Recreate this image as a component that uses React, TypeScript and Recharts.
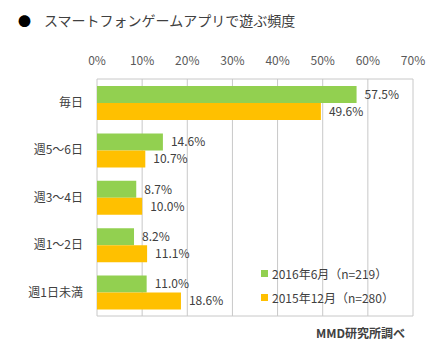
import React from "react";
import { BarChart, Bar, XAxis, YAxis, CartesianGrid, LabelList } from "recharts";

const categories = ["毎日", "週5〜6日", "週3〜4日", "週1〜2日", "週1日未満"];
const series2016 = [57.5, 14.6, 8.7, 8.2, 11.0];
const series2015 = [49.6, 10.7, 10.0, 11.1, 18.6];
const xTicks = [0, 10, 20, 30, 40, 50, 60, 70];
const seriesNames = ["2016年6月（n=219）", "2015年12月（n=280）"];
const seriesColors = ["#92D050", "#FFC000"];
const title = "スマートフォンゲームアプリで遊ぶ頻度";
const source = "MMD研究所調べ";

const data = categories.map((c, i) => ({ name: c, a: series2016[i], b: series2015[i] }));

const FONT = "'Noto Sans CJK JP', 'Noto Sans', sans-serif";

export default function App() {
  return (
    <div style={{ position: "fixed", left: 0, top: 0, width: 431, height: 353, background: "#fff", fontFamily: FONT }}>
      <div style={{ position: "absolute", left: 18, top: 9, fontSize: 14, color: "#404040", whiteSpace: "nowrap", lineHeight: "22px" }}>
        <span style={{ color: "#000", fontSize: 13, marginRight: 13 }}>●</span>
        {title}
      </div>
      <BarChart
        width={431}
        height={353}
        data={data}
        layout="vertical"
        margin={{ top: 49, right: 18, bottom: 37, left: 0 }}
        barGap={0}
      >
        <CartesianGrid
          stroke="#c8c8c8"
          horizontalCoordinatesGenerator={({ offset }: any) => [offset.top, offset.top + offset.height]}
        />
        <XAxis
          type="number"
          orientation="top"
          height={30}
          domain={[0, 70]}
          ticks={xTicks}
          tickFormatter={(v: number) => `${v}%`}
          axisLine={false}
          tickLine={false}
          tickSize={0}
          tickMargin={14}
          tick={{ fill: "#595959", fontSize: 12, fontFamily: FONT }}
          interval={0}
        />
        <YAxis
          type="category"
          dataKey="name"
          width={97}
          axisLine={false}
          tickLine={false}
          tickSize={0}
          tickMargin={14}
          tick={{ fill: "#404040", fontSize: 12, fontFamily: FONT }}
          interval={0}
        />
        <Bar dataKey="a" name={seriesNames[0]} fill={seriesColors[0]} barSize={17} isAnimationActive={false}>
          <LabelList
            dataKey="a"
            position="right"
            offset={8}
            formatter={(v: number) => `${v.toFixed(1)}%`}
            style={{ fill: "#404040", fontSize: 12, fontFamily: FONT }}
          />
        </Bar>
        <Bar dataKey="b" name={seriesNames[1]} fill={seriesColors[1]} barSize={17} isAnimationActive={false}>
          <LabelList
            dataKey="b"
            position="right"
            offset={8}
            formatter={(v: number) => `${v.toFixed(1)}%`}
            style={{ fill: "#404040", fontSize: 12, fontFamily: FONT }}
          />
        </Bar>
      </BarChart>
      <div style={{ position: "absolute", left: 261, top: 261, fontSize: 12, color: "#404040", whiteSpace: "nowrap" }}>
        {seriesNames.map((n, i) => (
          <div key={i} style={{ display: "flex", alignItems: "center", height: 24 }}>
            <span style={{ display: "inline-block", width: 7, height: 7, background: seriesColors[i], marginRight: 4 }} />
            <span>{n}</span>
          </div>
        ))}
      </div>
      <div style={{ position: "absolute", left: 316, top: 324, fontSize: 12, fontWeight: "bold", color: "#404040", whiteSpace: "nowrap", lineHeight: "18px" }}>
        {source}
      </div>
    </div>
  );
}
